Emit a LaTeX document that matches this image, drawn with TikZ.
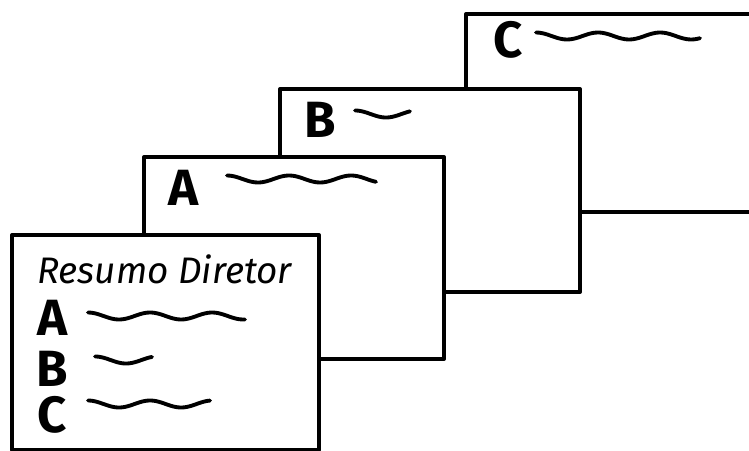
\documentclass[tikz,border=0pt]{standalone}
\usepackage{fontspec}
\setsansfont{Fira Sans}
\newcommand{\wavyline}[3]{%
  \draw[wave] plot[domain=#1:#2, samples=60] (\x, {#3+0.07*cos(290*(\x-#1))});}
\tikzset{
  card/.style={draw, fill=white, line width=2.3pt, line join=round,
    anchor=north west, inner sep=0pt},
  wave/.style={line width=2.2pt, line cap=round, line join=round},
  letter/.style={inner sep=0pt, font=\sffamily\bfseries\fontsize{29}{31}\selectfont},
  title/.style={font=\sffamily\itshape\fontsize{21}{24}\selectfont}
}
\begin{document}
\begin{tikzpicture}
  \useasboundingbox (0,0) rectangle (14.98,9);
  % back to front
  \node[card, minimum width=5.7cm, minimum height=3.96cm] (cardC) at (9.28,8.76) {};
  \node[letter] (letC) at (10.16,8.2) {C};
  \wavyline{10.72}{14.0}{8.28}

  \node[card, minimum width=6.0cm, minimum height=4.06cm] (cardB) at (5.56,7.26) {};
  \node[letter] (letB) at (6.4,6.6) {B};
  \wavyline{7.1}{8.2}{6.72}

  \node[card, minimum width=6.0cm, minimum height=4.04cm] (cardA) at (2.84,5.9) {};
  \node[letter] (letA) at (3.68,5.24) {A};
  \wavyline{4.54}{7.52}{5.42}

  \node[card, minimum width=6.14cm, minimum height=4.3cm] (summary) at (0.2,4.34) {};
  \node[title, anchor=west] (head) at (0.62,3.62) {Resumo Diretor};
  \node[letter] (itemA) at (1.06,2.64) {A};
  \node[letter] (itemB) at (1.04,1.62) {B};
  \node[letter] (itemC) at (1.04,0.7) {C};
  \wavyline{1.76}{4.9}{2.68}
  \wavyline{1.9}{3.04}{1.8}
  \wavyline{1.76}{4.2}{0.92}
\end{tikzpicture}
\end{document}
